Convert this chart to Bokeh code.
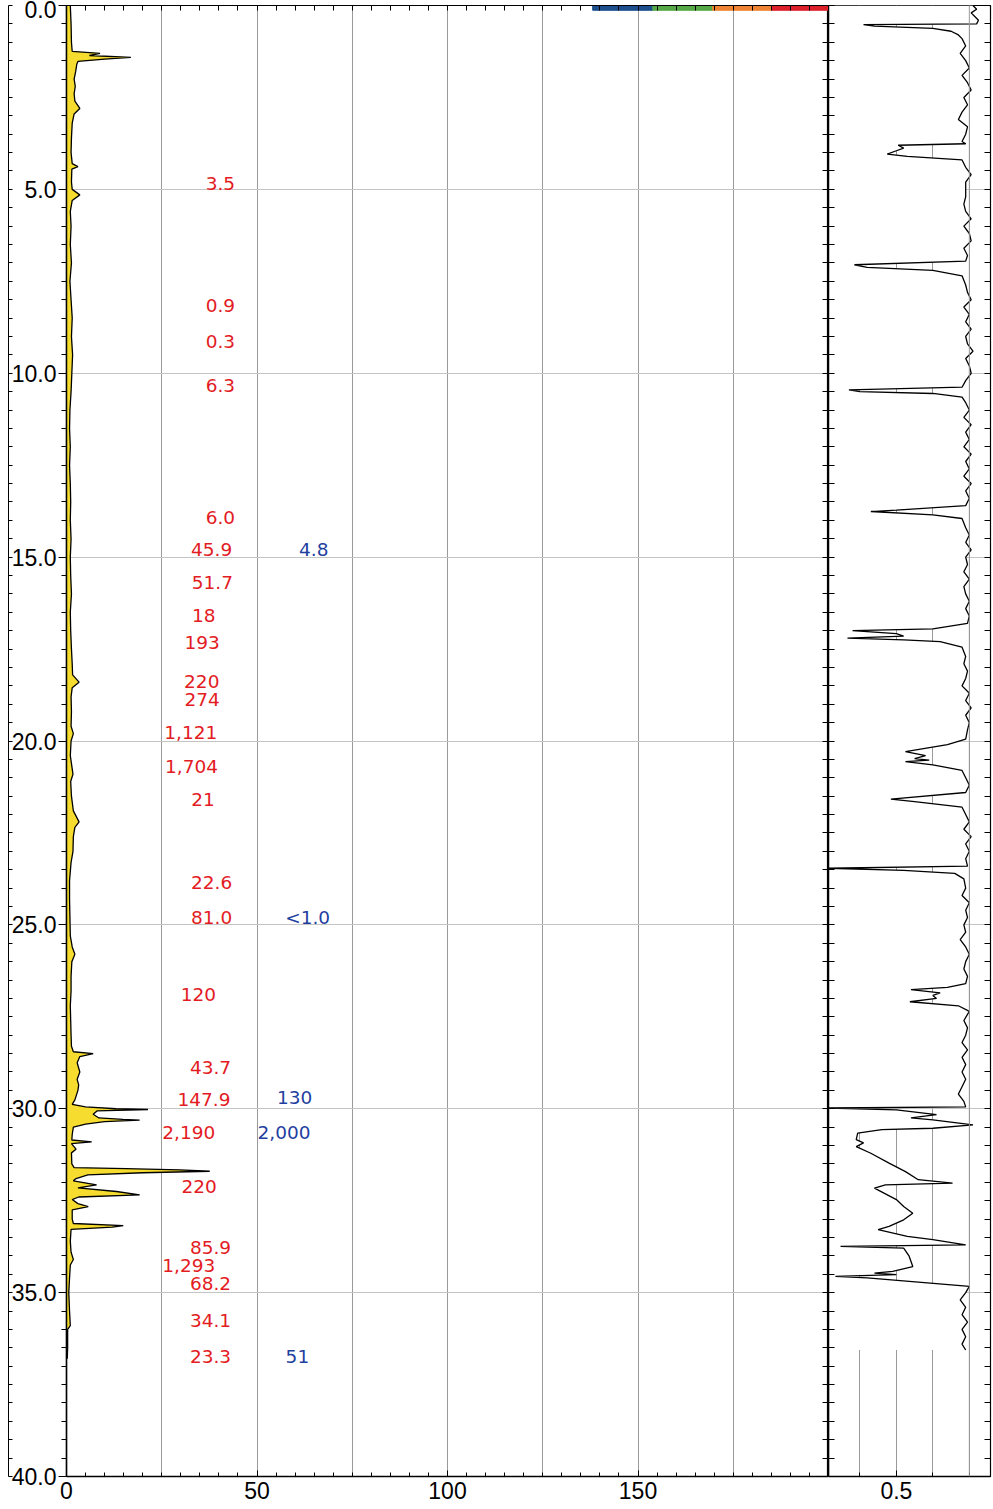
import numpy as np
from bokeh.plotting import figure
from bokeh.layouts import row
from bokeh.models import Range1d, FixedTicker, LinearAxis, ColumnDataSource, Span, NumeralTickFormatter
from bokeh.embed import file_html
from bokeh.resources import INLINE
from bokeh.core.properties import value

# ---------------- data ----------------
# left track (yellow profile): depth, value
conc_depth = [0.0, 0.5, 1.0, 1.25, 1.30, 1.36, 1.41, 1.46, 1.52, 1.6, 1.8, 2.0, 2.2, 2.4, 2.6, 2.8, 2.95,
              3.2, 3.6, 4.0, 4.3, 4.38, 4.45, 4.8, 5.0, 5.15, 5.3, 5.6, 6.0, 6.5, 7.0, 7.5, 8.0, 8.5,
              9.0, 9.5, 10.0, 10.5, 11.0, 11.5, 12.0, 12.5, 13.0, 13.5, 14.0, 14.5, 15.0, 15.5, 16.0,
              16.5, 17.0, 17.5, 17.9, 18.2, 18.4, 18.55, 18.8, 19.2, 19.6, 19.8, 20.0, 20.4, 20.9,
              21.1, 21.5, 21.9, 22.2, 22.35, 22.6, 23.0, 23.3, 23.8, 24.3, 24.8, 25.3, 25.6, 25.8,
              26.0, 26.4, 26.8, 27.2, 27.6, 28.0, 28.3, 28.45, 28.5, 28.58, 28.75, 29.0, 29.2, 29.35,
              29.5, 29.76, 29.88, 29.95, 30.0, 30.02, 30.06, 30.15, 30.25, 30.29, 30.31, 30.35, 30.42,
              30.5, 30.7, 30.85, 30.9, 30.95, 31.1, 31.2, 31.5, 31.6, 31.63, 31.66, 31.70, 31.74, 31.8,
              31.9, 31.96, 32.07, 32.15, 32.25, 32.34, 32.40, 32.47, 32.58, 32.66, 32.75, 33.0, 33.12,
              33.18, 33.22, 33.28, 33.6, 33.9, 34.1, 34.25, 34.6, 35.0, 35.5, 35.9, 36.0, 36.5, 36.8]
conc_value = [1.0, 1.2, 1.3, 1.5, 8.8, 6.0, 16.9, 10.0, 3.0, 2.7, 2.4, 2.0, 2.3, 2.0, 2.2, 3.5, 2.0,
              1.5, 1.3, 1.2, 1.5, 3.0, 1.4, 1.3, 1.5, 3.5, 1.5, 1.0, 1.2, 1.0, 1.3, 0.9, 1.2, 1.5,
              1.3, 1.6, 1.4, 1.2, 0.9, 0.8, 1.0, 0.8, 1.0, 1.1, 1.0, 1.2, 1.0, 1.1, 1.3,
              1.0, 1.1, 1.3, 1.5, 1.6, 3.3, 1.5, 1.2, 1.3, 1.2, 1.8, 1.2, 1.0, 1.7,
              1.1, 1.3, 1.8, 3.3, 2.2, 1.8, 1.7, 1.2, 0.8, 0.8, 0.9, 1.0, 1.5, 2.2,
              1.4, 1.2, 1.2, 1.0, 1.1, 1.2, 1.3, 1.8, 7.0, 3.5, 2.8, 3.5, 2.8, 3.2,
              3.0, 2.2, 1.5, 5.0, 13.0, 21.4, 8.0, 7.0, 8.5, 14.8, 19.2, 10.0, 5.0,
              1.8, 1.5, 1.4, 6.6, 1.3, 2.5, 1.3, 1.4, 2.0, 15.7, 29.7, 37.6, 20.0, 5.6,
              2.5, 1.8, 7.9, 3.0, 13.1, 19.2, 3.2, 1.5, 3.0, 5.7, 1.5, 1.5, 1.8,
              14.9, 12.0, 1.2, 1.0, 1.2, 1.8, 1.0, 0.8, 0.6, 0.8, 1.0, 0.3, 0.3, 0.2]

# right track (black profile): depth, value
cond_depth = [0.0, 0.1, 0.2, 0.3, 0.4, 0.5, 0.52, 0.56, 0.62, 0.7, 0.8, 0.9, 1.1, 1.3, 1.5, 1.7, 1.9,
              2.1, 2.3, 2.5, 2.7, 2.9, 3.1, 3.3, 3.5, 3.7, 3.76, 3.80, 3.88, 3.95, 4.04, 4.10, 4.2,
              4.4, 4.6, 4.8, 5.0, 5.2, 5.4, 5.6, 5.8, 6.0, 6.2, 6.4, 6.6, 6.8, 6.95, 7.05, 7.12, 7.2,
              7.35, 7.6, 7.8, 8.0, 8.2, 8.4, 8.6, 8.8, 9.0, 9.2, 9.4, 9.6, 9.8, 10.0, 10.2, 10.38,
              10.45, 10.50, 10.55, 10.65, 10.8, 11.0, 11.2, 11.4, 11.6, 11.8, 12.0, 12.2, 12.4, 12.6,
              12.8, 13.0, 13.2, 13.4, 13.6, 13.72, 13.76, 13.85, 13.95, 14.2, 14.4, 14.6, 14.8, 15.0,
              15.2, 15.4, 15.6, 15.8, 16.0, 16.2, 16.4, 16.6, 16.8, 16.95, 17.00, 17.08, 17.15, 17.20,
              17.25, 17.30, 17.45, 17.7, 17.9, 18.1, 18.3, 18.5, 18.7, 18.9, 19.1, 19.3, 19.5, 19.7,
              19.95, 20.1, 20.29, 20.40, 20.48, 20.52, 20.56, 20.65, 20.80, 21.0, 21.2, 21.4, 21.58,
              21.65, 21.80, 22.0, 22.2, 22.4, 22.6, 22.8, 23.0, 23.2, 23.40, 23.46, 23.52, 23.60,
              23.75, 24.0, 24.2, 24.4, 24.6, 24.8, 25.0, 25.2, 25.4, 25.6, 25.8, 26.0, 26.2, 26.4,
              26.6, 26.70, 26.76, 26.85, 26.92, 27.00, 27.09, 27.2, 27.35, 27.6, 27.8, 28.0, 28.2,
              28.4, 28.6, 28.8, 29.0, 29.2, 29.4, 29.6, 29.8, 29.95, 29.98, 30.03, 30.16, 30.25,
              30.30, 30.44, 30.53, 30.57, 30.66, 30.84, 30.93, 31.03, 31.21, 31.48, 31.71, 31.93,
              32.02, 32.07, 32.16, 32.47, 32.66, 32.84, 33.02, 33.20, 33.29, 33.47, 33.56, 33.70,
              33.74, 33.79, 34.01, 34.29, 34.42, 34.47, 34.51, 34.56, 34.60, 34.83, 35.0, 35.2,
              35.4, 35.6, 35.8, 36.0, 36.2, 36.4, 36.56]
cond_value = [0.71, 0.72, 0.705, 0.715, 0.725, 0.72, 0.41, 0.44, 0.60, 0.65, 0.67, 0.68, 0.69, 0.675,
              0.69, 0.70, 0.68, 0.695, 0.705, 0.685, 0.695, 0.68, 0.67, 0.695, 0.69, 0.68, 0.69,
              0.505, 0.52, 0.50, 0.475, 0.53, 0.68, 0.69, 0.705, 0.69, 0.69, 0.69, 0.685, 0.69,
              0.705, 0.685, 0.70, 0.705, 0.685, 0.695, 0.69, 0.385, 0.42, 0.60, 0.68, 0.69, 0.695,
              0.705, 0.685, 0.70, 0.69, 0.705, 0.69, 0.695, 0.71, 0.69, 0.70, 0.705, 0.69, 0.68,
              0.37, 0.40, 0.60, 0.68, 0.69, 0.70, 0.685, 0.705, 0.69, 0.70, 0.685, 0.705, 0.69, 0.70,
              0.685, 0.705, 0.69, 0.70, 0.69, 0.50, 0.43, 0.60, 0.68, 0.69, 0.70, 0.69, 0.705, 0.69,
              0.695, 0.685, 0.70, 0.685, 0.69, 0.70, 0.69, 0.70, 0.695, 0.60, 0.38, 0.50, 0.52, 0.366,
              0.52, 0.62, 0.68, 0.69, 0.685, 0.695, 0.69, 0.68, 0.70, 0.69, 0.705, 0.69, 0.70, 0.695,
              0.69, 0.64, 0.525, 0.58, 0.55, 0.59, 0.525, 0.60, 0.68, 0.69, 0.70, 0.69, 0.485,
              0.55, 0.68, 0.69, 0.70, 0.685, 0.705, 0.69, 0.70, 0.69, 0.695, 0.314, 0.52, 0.66,
              0.685, 0.69, 0.68, 0.70, 0.69, 0.695, 0.685, 0.69, 0.675, 0.69, 0.70, 0.69, 0.685, 0.695,
              0.69, 0.64, 0.54, 0.62, 0.60, 0.61, 0.537, 0.67, 0.70, 0.685, 0.695, 0.69, 0.68,
              0.695, 0.68, 0.69, 0.68, 0.69, 0.68, 0.67, 0.685, 0.69, 0.314, 0.50, 0.61, 0.54,
              0.60, 0.71, 0.60, 0.46, 0.394, 0.39, 0.41, 0.39, 0.43, 0.48, 0.525, 0.56,
              0.654, 0.47, 0.44, 0.50, 0.52, 0.545, 0.52, 0.48, 0.45, 0.53, 0.60, 0.69,
              0.347, 0.52, 0.535, 0.545, 0.49, 0.44, 0.50, 0.333, 0.42, 0.70, 0.69, 0.675,
              0.69, 0.68, 0.695, 0.68, 0.69, 0.68, 0.69]

# red sample labels
red_text = ["3.5", "0.9", "0.3", "6.3", "6.0", "45.9", "51.7", "18", "193", "220", "274", "1,121",
            "1,704", "21", "22.6", "81.0", "120", "43.7", "147.9", "2,190", "220", "85.9", "1,293",
            "68.2", "34.1", "23.3"]
red_depth = [4.85, 8.17, 9.15, 10.32, 13.93, 14.78, 15.70, 16.60, 17.31, 18.39, 18.88, 19.78,
             20.70, 21.60, 23.86, 24.81, 26.90, 28.89, 29.76, 30.65, 32.12, 33.78, 34.27,
             34.76, 35.77, 36.75]
red_x = [40.4, 40.4, 40.4, 40.4, 40.4, 38.1, 38.3, 36.0, 35.6, 35.5, 35.6, 32.6,
         32.8, 35.8, 38.1, 38.1, 34.6, 37.8, 36.1, 32.1, 34.8, 37.8, 32.1,
         37.8, 37.8, 37.8]

# blue sample labels
blue_text = ["4.8", "<1.0", "130", "2,000", "51"]
blue_depth = [14.78, 24.81, 29.70, 30.65, 36.75]
blue_x = [64.9, 63.3, 59.9, 57.1, 60.6]

# colour scale bar at the top
scale_left = [138.1, 153.9, 169.6, 185.1]
scale_right = [153.9, 169.6, 185.1, 200.0]
scale_colors = ["#1d4f8c", "#55a845", "#ee8433", "#dc2029"]

# ---------------- figures ----------------
AX_FONT = "Liberation Sans"
AX_SIZE = "23px"
LAB_FONT = "DejaVu Sans"

yr = Range1d(40, 0)
major_y = [0, 5, 10, 15, 20, 25, 30, 35, 40]
minor_y = list(np.arange(0, 40.01, 0.5))
all_y = minor_y

H = 1509
left = figure(width=828, height=H, x_range=Range1d(0, 200), y_range=yr,
              output_backend="svg", toolbar_location=None,
              min_border_left=66, min_border_right=0, min_border_top=5, min_border_bottom=33)
right = figure(width=165, height=H, x_range=Range1d(0.314, 0.758), y_range=yr,
               output_backend="svg", toolbar_location=None,
               min_border_left=0, min_border_right=3, min_border_top=5, min_border_bottom=33)

for p in (left, right):
    p.outline_line_color = "black"
    p.outline_line_width = 1.2
    p.background_fill_color = "white"
    p.border_fill_color = "white"
    p.ygrid.ticker = FixedTicker(ticks=[5, 10, 15, 20, 25, 30, 35])
    p.ygrid.grid_line_color = "#c4c4c4"
    p.ygrid.grid_line_width = 1
    p.xgrid.grid_line_color = "#9a9a9a"
    p.xgrid.grid_line_width = 1
    p.xaxis.major_label_text_font = AX_FONT
    p.xaxis.major_label_text_font_size = AX_SIZE
    p.xaxis.major_label_text_color = "black"
    p.xaxis.axis_line_color = "black"
    p.xaxis.axis_line_width = 1.5
    p.xaxis.major_tick_in = 6
    p.xaxis.major_tick_out = 0
    p.xaxis.minor_tick_in = 4
    p.xaxis.minor_tick_out = 0
    p.xaxis.major_label_standoff = 5

left.xgrid.ticker = FixedTicker(ticks=[25, 50, 75, 100, 125, 150, 175])
right.xgrid.ticker = FixedTicker(ticks=[0.4, 0.5, 0.6, 0.7])

left.xaxis.ticker = FixedTicker(ticks=[0, 50, 100, 150], minor_ticks=list(np.arange(0, 200.1, 5)))
left.xaxis.formatter = NumeralTickFormatter(format="0")
right.xaxis.ticker = FixedTicker(ticks=[0.5], minor_ticks=[0.4, 0.6, 0.7])
right.xaxis.formatter = NumeralTickFormatter(format="0.0")

# left y axis with labels
ya = left.yaxis[0]
ya.ticker = FixedTicker(ticks=major_y, minor_ticks=minor_y)
ya.formatter = NumeralTickFormatter(format="0.0")
ya.major_label_text_font = AX_FONT
ya.major_label_text_font_size = AX_SIZE
ya.major_label_text_color = "black"
ya.major_tick_out = 8
ya.major_tick_in = 0
ya.minor_tick_out = 5
ya.minor_tick_in = 0
ya.major_label_standoff = 2
ya.axis_line_width = 1.5

# right panel's y axis: ticks only (no major ticks -> no labels)
rya = right.yaxis[0]
rya.ticker = FixedTicker(ticks=[], minor_ticks=all_y)
rya.major_tick_out = 0
rya.minor_tick_out = 0
rya.major_tick_in = 0
rya.minor_tick_in = 6
rya.major_label_standoff = 0
rya.axis_line_width = 1.5


def tick_axis(fig, side, minor_list, tin):
    ax = LinearAxis(ticker=FixedTicker(ticks=[], minor_ticks=minor_list),
                    major_label_standoff=0, major_tick_in=0, major_tick_out=0,
                    minor_tick_in=tin, minor_tick_out=0, axis_line_color="black")
    fig.add_layout(ax, side)
    return ax


tick_axis(left, "right", all_y, 6)
tick_axis(left, "above", list(np.arange(0, 200.1, 5)), 5)
tick_axis(right, "right", all_y, 6)
# outer depth scale line at the far left, ticks pointing towards the labels
tick_axis(left, "left", all_y, 4)

# ---- left track ----
left.harea(y=conc_depth, x1=0, x2=conc_value, fill_color="#f6dc2e", fill_alpha=1.0)
left.line(x=conc_value, y=conc_depth, line_color="black", line_width=1.3)

left.quad(left=scale_left, right=scale_right, top=0, bottom=0.13, fill_color=scale_colors,
          line_color=scale_colors)

red_src = ColumnDataSource(dict(x=red_x, y=red_depth, t=red_text))
left.text(x="x", y="y", text="t", source=red_src, text_color="#e31b23",
          text_font=value(LAB_FONT), text_font_size="18.5px",
          text_align="center", text_baseline="middle")
blue_src = ColumnDataSource(dict(x=blue_x, y=blue_depth, t=blue_text))
left.text(x="x", y="y", text="t", source=blue_src, text_color="#1f3f9f",
          text_font=value(LAB_FONT), text_font_size="18.5px",
          text_align="center", text_baseline="middle")

# ---- right track ----
right.harea(y=cond_depth, x1=right.x_range.start, x2=cond_value, fill_color="white")
right.line(x=cond_value, y=cond_depth, line_color="black", line_width=1.3)
right.add_layout(Span(location=0.7, dimension="height", line_color="#9a9a9a", line_width=1))

layout = row(left, right)
open("out.html", "w").write(file_html(layout, INLINE))
